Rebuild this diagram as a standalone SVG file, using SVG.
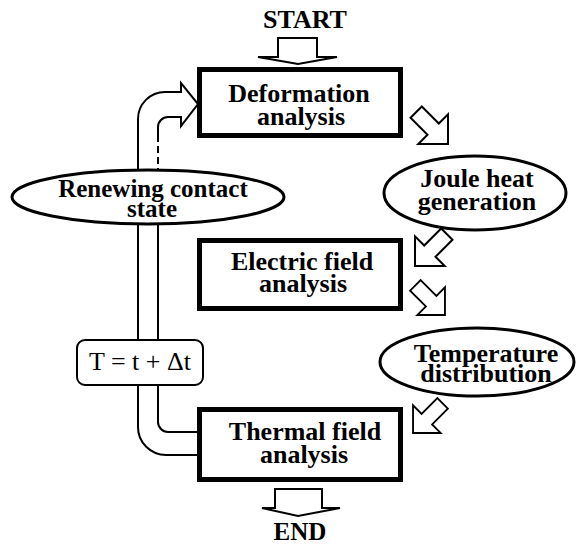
<svg xmlns="http://www.w3.org/2000/svg" xmlns:xlink="http://www.w3.org/1999/xlink" width="576" height="546" viewBox="0 0 576 546">
<style>
.box{fill:#fff;stroke:#000;stroke-width:5}
.ell{fill:#fff;stroke:#000;stroke-width:3}
.rbox{fill:#fff;stroke:#000;stroke-width:2}
.arr{fill:#fff;stroke:#000;stroke-width:2;stroke-linejoin:miter}
.loop{fill:none;stroke:#000;stroke-width:2}
.dash{stroke-dasharray:7 4}
.t{font-family:"Liberation Serif","Times New Roman",serif;font-weight:bold;font-size:26px;text-anchor:middle;fill:#000}
.s{font-size:25px}
.n{font-weight:normal}
</style>
<defs>
<path id="blk" d="M-4,-8 H20 V-21 L41,0 L20,21 V8 H-4 Z"/>
</defs>
<rect width="576" height="546" fill="#fff"/>
<g id="connectors">
<path class="arr" d="M278,38 H317 V57 H337 L298,64 L258,57 H278 Z"/>
<use xlink:href="#blk" href="#blk" class="arr" transform="translate(419,115) rotate(45)"/>
<use xlink:href="#blk" href="#blk" class="arr" transform="translate(444,237) rotate(135)"/>
<use xlink:href="#blk" href="#blk" class="arr" transform="translate(418,288) rotate(45) scale(0.93)"/>
<use xlink:href="#blk" href="#blk" class="arr" transform="translate(440,406) rotate(135) scale(0.93)"/>
<path class="arr" d="M275,489 H322 V508 H340 L298,516 L262,508 H275 Z"/>
<path class="loop" d="M197,455 H166 A28,28 0 0 1 138,427 V119 A27,27 0 0 1 165,92 H181 V83 L198,104 L181,126 V117 H168 A10,10 0 0 0 158,127 V135"/>
<path class="loop dash" d="M158,135 V172"/>
<path class="loop" d="M158,172 V422 A10,10 0 0 0 168,432 H197"/>
</g>
<g id="start"><text class="t" x="305" y="28">START</text></g>
<g id="deformation">
<rect class="box" x="199.5" y="69.5" width="201" height="66"/>
<text class="t" x="299" y="102">Deformation<tspan x="301" y="125">analysis</tspan></text>
</g>
<g id="joule">
<ellipse class="ell" cx="475" cy="193" rx="91" ry="37"/>
<text class="t" x="477" y="187">Joule heat<tspan x="477" y="210">generation</tspan></text>
</g>
<g id="electric">
<rect class="box" x="199.5" y="240.5" width="201" height="68"/>
<text class="t" x="302" y="270">Electric field<tspan x="303" y="292">analysis</tspan></text>
</g>
<g id="temperature">
<ellipse class="ell" cx="477" cy="362" rx="97" ry="34"/>
<text class="t" x="486" y="362">Temperature<tspan x="486" y="382">distribution</tspan></text>
</g>
<g id="thermal">
<rect class="box" x="199.5" y="409.5" width="201" height="70"/>
<text class="t" x="305" y="440">Thermal field<tspan x="304" y="463">analysis</tspan></text>
</g>
<g id="renewing">
<ellipse class="ell" cx="148" cy="197" rx="136" ry="27"/>
<text class="t s" x="153" y="197">Renewing contact<tspan x="152" y="217">state</tspan></text>
</g>
<g id="timestep">
<rect class="rbox" x="77" y="340" width="126" height="45" rx="8"/>
<text class="t n" x="140" y="370">T = t + Δt</text>
</g>
<g id="end"><text class="t s" x="300" y="540">END</text></g>
</svg>
